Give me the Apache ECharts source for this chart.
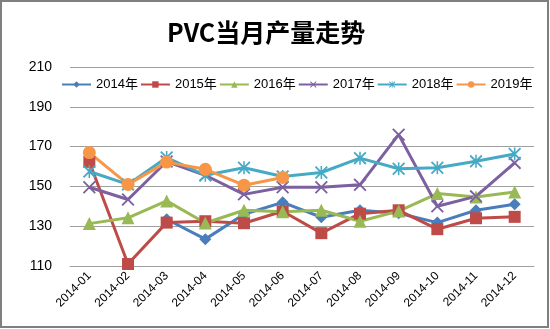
<!DOCTYPE html>
<html><head><meta charset="utf-8">
<script src="https://cdn.jsdelivr.net/npm/echarts@6/dist/echarts.min.js"></script>
<style>html,body{margin:0;padding:0;background:#fff}#c{width:550px;height:329px}</style>
</head><body><div id="c"></div>
<script>
var categories = ['2014-01','2014-02','2014-03','2014-04','2014-05','2014-06','2014-07','2014-08','2014-09','2014-10','2014-11','2014-12'];
var seriesNames = ['2014年','2015年','2016年','2017年','2018年','2019年'];
var s2014 = [null, null, 133.5, 123.5, 136, 142, 134.5, 138, 136.5, 131.8, 138, 141];
var s2015 = [162.3, 111, 131.8, 132.5, 131.5, 137.5, 126.5, 136.3, 138, 128.5, 134, 134.7];
var s2016 = [131.3, 134.2, 142.7, 131.6, 138, 137.2, 138, 132.5, 137.6, 146.4, 144.7, 147.2];
var s2017 = [149.6, 143.4, 162.5, 155.6, 146, 149.6, 149.6, 150.8, 176, 140, 145, 161.8];
var s2018 = [157.5, 151, 164.5, 155.6, 159.4, 155, 157, 164.2, 158.9, 159.4, 162.6, 166.3];
var s2019 = [167, 151, 162.2, 158.6, 150.6, 154.5, null, null, null, null, null, null];
var yTicks = [110, 130, 150, 170, 190, 210];

var colors = ['#4A7EBB','#BE4B48','#98B954','#7D60A0','#46AAC5','#F79646'];
var xPath = 'path://M0,1 L1,0 L10,9 L9,10 Z M9,0 L10,1 L1,10 L0,9 Z';
var starPath = 'path://M0,1 L1,0 L10,9 L9,10 Z M9,0 L10,1 L1,10 L0,9 Z M4.4,0 L5.6,0 L5.6,10 L4.4,10 Z';
var symbols = ['diamond','rect','triangle',xPath,starPath,'circle'];
var sizes = [12,12,13,13,13,13];
var data = [s2014,s2015,s2016,s2017,s2018,s2019];

var chart = echarts.init(document.getElementById('c'), null, {renderer:'canvas'});
var font = '"Liberation Sans","Noto Sans CJK SC",sans-serif';
chart.setOption({
  backgroundColor:'#fff',
  animation:false,
  color: colors,
  title:{text:'PVC当月产量走势', left:162, top:15,
    textStyle:{fontSize:25, fontWeight:'bold', color:'#000', fontFamily:'"Noto Sans CJK SC",sans-serif'}},
  legend:{left:61, top:78, padding:0, itemWidth:29, itemHeight:8, itemGap:2,
    textStyle:{fontSize:13, color:'#000', fontFamily:font},
    data: seriesNames},
  graphic:[{type:'rect', shape:{x:1,y:1,width:547,height:326}, style:{fill:null, stroke:'#7f7f7f', lineWidth:2}, silent:true}],
  grid:{left:70, right:16, top:67, bottom:63},
  xAxis:{type:'category', data:categories, boundaryGap:true,
    axisLine:{show:true, lineStyle:{color:'#a0a0a0'}}, axisTick:{show:false},
    axisLabel:{rotate:45, fontSize:12, color:'#000', fontFamily:font, margin:8}},
  yAxis:{type:'value', min:yTicks[0], max:yTicks[yTicks.length-1], interval:20,
    axisLine:{show:false}, axisTick:{show:false},
    axisLabel:{fontSize:14, color:'#000', fontFamily:font, margin:18},
    splitLine:{lineStyle:{color:'#a0a0a0', width:1}}},
  series: seriesNames.map(function(n,i){
    return {name:n, type:'line', data:data[i], symbol:symbols[i], symbolSize:sizes[i],
      lineStyle:{width:3, color:colors[i]}, itemStyle:{color:colors[i]}, connectNulls:false};
  })
});
</script></body></html>
